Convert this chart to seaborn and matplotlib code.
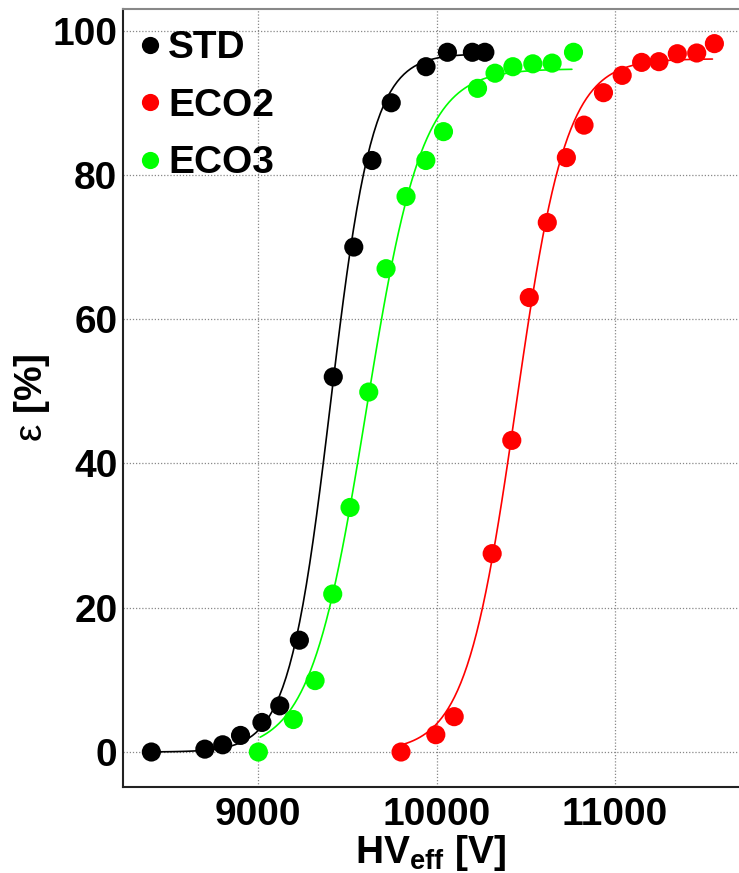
import numpy as np
import pandas as pd
import matplotlib
matplotlib.use("Agg")
import matplotlib.pyplot as plt
from matplotlib.ticker import MultipleLocator
import seaborn as sns

# Efficiency scans (HV_eff in V, efficiency in %)
std_hv = [8400, 8700, 8800, 8900, 9020, 9120, 9230, 9420, 9535, 9637, 9745, 9940, 10060, 10200, 10270]
std_eff = [0.0, 0.4, 1.0, 2.3, 4.1, 6.4, 15.5, 52.0, 70.0, 82.0, 90.0, 95.0, 97.0, 97.0, 97.0]

eco2_hv = [9800, 9995, 10098, 10311, 10421, 10519, 10620, 10727, 10826, 10935, 11040, 11149, 11246, 11349, 11458, 11557]
eco2_eff = [0.0, 2.4, 4.9, 27.5, 43.2, 63.0, 73.4, 82.4, 86.9, 91.4, 93.8, 95.6, 95.7, 96.8, 96.9, 98.2]

eco3_hv = [9000, 9196, 9318, 9417, 9514, 9619, 9716, 9828, 9939, 10038, 10229, 10327, 10427, 10539, 10647, 10767]
eco3_eff = [0.0, 4.5, 9.9, 21.9, 33.9, 49.9, 67.0, 77.0, 82.0, 86.0, 92.0, 94.1, 95.0, 95.4, 95.5, 97.0]

gases = ["STD", "ECO2", "ECO3"]
colors = ["#000000", "#ff0000", "#00ff00"]

# Sigmoid fit parameters: eff = emax / (1 + exp(-lam * (HV - hv50)))
fit_emax = [96.8, 96.1, 94.7]
fit_lam = [0.0085, 0.0071, 0.0064]
fit_hv50 = [9405, 10445, 9605]
fit_lo = [8400, 9800, 9010]
fit_hi = [10270, 11546, 10758]

points = pd.concat([
    pd.DataFrame({"HV": std_hv, "eff": std_eff, "gas": "STD"}),
    pd.DataFrame({"HV": eco2_hv, "eff": eco2_eff, "gas": "ECO2"}),
    pd.DataFrame({"HV": eco3_hv, "eff": eco3_eff, "gas": "ECO3"}),
], ignore_index=True)

curves = []
for g, emax, lam, hv50, lo, hi in zip(gases, fit_emax, fit_lam, fit_hv50, fit_lo, fit_hi):
    hv = np.linspace(lo, hi, 100)
    curves.append(pd.DataFrame({"HV": hv, "eff": emax / (1 + np.exp(-lam * (hv - hv50))), "gas": g}))
curves = pd.concat(curves, ignore_index=True)

sns.set_style("white")
plt.rcParams["font.family"] = ["Liberation Sans", "DejaVu Sans"]
plt.rcParams["font.weight"] = "bold"
plt.rcParams["text.color"] = "black"
plt.rcParams["axes.labelcolor"] = "black"
plt.rcParams["mathtext.fontset"] = "custom"
plt.rcParams["mathtext.rm"] = "Liberation Sans:weight=bold"
plt.rcParams["mathtext.it"] = "Liberation Sans:weight=normal"
plt.rcParams["mathtext.bf"] = "Liberation Sans:weight=bold"

fig = plt.figure(figsize=(7.39, 8.73), dpi=100)
ax = fig.add_axes([123 / 739, 86 / 873, 616 / 739, 778 / 873])

palette = dict(zip(gases, colors))
sns.lineplot(data=curves, x="HV", y="eff", hue="gas", hue_order=gases, palette=palette,
             estimator=None, sort=True, linewidth=1.2, legend=False, ax=ax, zorder=3)
sns.scatterplot(data=points, x="HV", y="eff", hue="gas", hue_order=gases, palette=palette,
                s=190, linewidth=0, ax=ax, zorder=4)

ax.set_xlim(8241, 11695)
ax.set_ylim(-4.85, 103.0)
ax.xaxis.set_major_locator(MultipleLocator(1000))
ax.xaxis.set_minor_locator(MultipleLocator(200))
ax.yaxis.set_major_locator(MultipleLocator(20))
ax.yaxis.set_minor_locator(MultipleLocator(5))

ax.grid(True, which="major", color="#888888", linestyle=(0, (1, 1.5)), linewidth=0.9)
ax.set_axisbelow(True)

ax.tick_params(axis="both", which="both", direction="in", colors="#333333", labelcolor="black")
ax.tick_params(axis="y", which="major", length=16, width=1.2, pad=4, labelsize=28)
ax.tick_params(axis="y", which="minor", length=7, width=1.0)
ax.tick_params(axis="x", which="major", length=14.5, width=1.2, pad=7, labelsize=28)
ax.tick_params(axis="x", which="minor", length=6.5, width=1.0)
for lab in ax.get_xticklabels() + ax.get_yticklabels():
    lab.set_fontweight("bold")

for side in ["left", "bottom"]:
    ax.spines[side].set_color("#222222")
    ax.spines[side].set_linewidth(1.5)
ax.spines["top"].set_color("#888888")
ax.spines["top"].set_linewidth(1.5)
ax.spines["right"].set_visible(False)

ax.set_xlabel(r"HV$_{\rm eff}$ [V]", fontsize=28, fontweight="bold", labelpad=0)
ax.set_ylabel(r"$\varepsilon$ [%]", fontsize=28, fontweight="bold")
ax.yaxis.set_label_coords(-0.115, 0.5)

handles, labels = ax.get_legend_handles_labels()
leg = ax.legend(handles, labels, loc="upper left", bbox_to_anchor=(0.0, 1.0), frameon=False,
                prop={"family": "Liberation Sans", "weight": "bold", "size": 28},
                handlelength=0.29, handletextpad=0.32, labelspacing=0.55,
                borderaxespad=0.0, borderpad=0.55, markerscale=0.9)
for t in leg.get_texts():
    t.set_color("black")

fig.savefig("out.png", dpi=100)
